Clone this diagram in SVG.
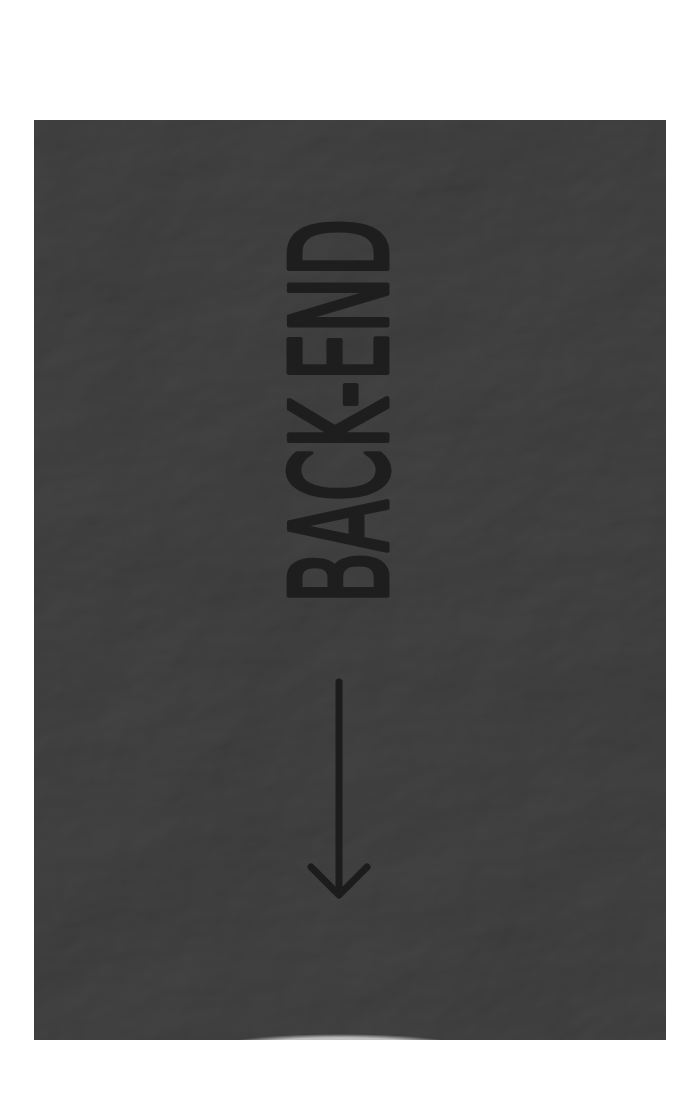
<svg xmlns="http://www.w3.org/2000/svg" width="700" height="1100" viewBox="0 0 700 1100">
  <style>
    .label { font-family: "Liberation Sans Narrow", "DejaVu Sans Condensed", "Liberation Sans", sans-serif; font-size: 134px; fill: #1e1e1e; stroke: #1e1e1e; stroke-width: 5; stroke-linejoin: round; stroke-linecap: round; }
    .arrow { fill: none; stroke: #1c1c1c; stroke-width: 7; stroke-linecap: round; stroke-linejoin: round; }
  </style>
  <defs>
    <filter id="crumple" x="0" y="0" width="100%" height="100%" color-interpolation-filters="sRGB">
      <feTurbulence type="fractalNoise" baseFrequency="0.004 0.006" numOctaves="5" seed="7" result="n"/>
      <feDiffuseLighting in="n" surfaceScale="9" lighting-color="#ffffff" result="l">
        <feDistantLight azimuth="225" elevation="55"/>
      </feDiffuseLighting>
      <feColorMatrix in="l" type="matrix" values="0.13 0 0 0 0.14  0.13 0 0 0 0.14  0.13 0 0 0 0.14  0 0 0 0 1" result="c"/>
      <feComposite in="c" in2="SourceGraphic" operator="in"/>
    </filter>
    <clipPath id="paperClip"><rect x="34" y="120" width="632" height="920"/></clipPath>
    <radialGradient id="glow" cx="0.5" cy="0.5" r="0.5">
      <stop offset="0" stop-color="#d8d8d8"/>
      <stop offset="0.7" stop-color="#bcbcbc"/>
      <stop offset="1" stop-color="#bcbcbc" stop-opacity="0"/>
    </radialGradient>
  </defs>
  <rect x="0" y="0" width="700" height="1100" fill="#ffffff"/>
  <g id="paper">
    <rect x="34" y="120" width="632" height="920" fill="#3e3e3e"/>
    <rect x="34" y="120" width="632" height="920" fill="#3e3e3e" filter="url(#crumple)"/>
    <g clip-path="url(#paperClip)">
      <ellipse cx="340" cy="1046" rx="120" ry="12" fill="url(#glow)"/>
    </g>
  </g>
  <g id="backend-label">
    <text class="label" x="0" y="0" text-anchor="middle" textLength="385" lengthAdjust="spacingAndGlyphs" transform="translate(387 411) rotate(-90)">BACK-END</text>
  </g>
  <g id="connectors">
    <path class="arrow" d="M339 682 V893"/>
    <path class="arrow" d="M311 867 L339 895 L367 867"/>
  </g>
</svg>
